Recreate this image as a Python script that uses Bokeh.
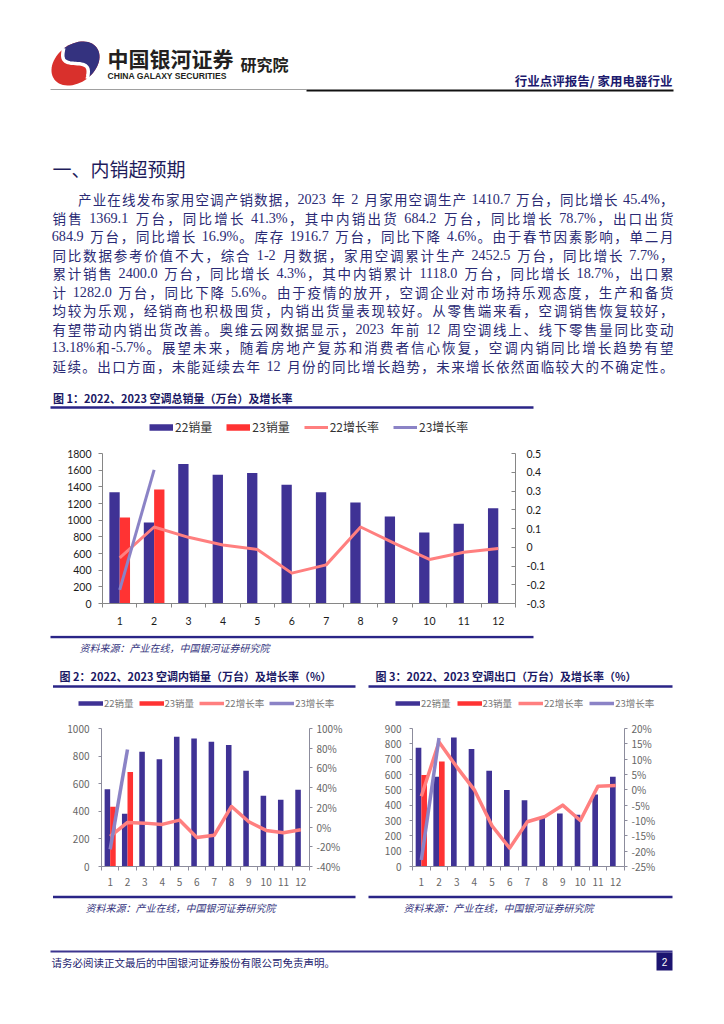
import math
from bokeh.plotting import figure
from bokeh.models import Range1d, LinearAxis, FixedTicker, Legend, LegendItem, ColumnDataSource
from bokeh.layouts import column, row
from bokeh.core.properties import value
from bokeh.transform import dodge
from bokeh.embed import file_html
from bokeh.resources import INLINE

# ---------------- data ----------------
MONTHS = [1, 2, 3, 4, 5, 6, 7, 8, 9, 10, 11, 12]
SERIES_NAMES = ["22销量", "23销量", "22增长率", "23增长率"]

# Figure 1: total sales (10k units) and growth
TOTAL_22 = [1334, 972, 1673, 1545, 1565, 1426, 1334, 1211, 1043, 852, 956, 1143]
TOTAL_23 = [1030.9, 1369.1]
TOTAL_G22 = [-0.057, 0.108, 0.053, 0.012, -0.012, -0.138, -0.094, 0.108, 0.019, -0.065, -0.027, -0.007]
TOTAL_G23 = [-0.227, 0.413]
TOTAL_LEFT_TICKS = [0, 200, 400, 600, 800, 1000, 1200, 1400, 1600, 1800]
TOTAL_RIGHT_TICKS = [-0.3, -0.2, -0.1, 0, 0.1, 0.2, 0.3, 0.4, 0.5]
TOTAL_RIGHT_LABELS = ["-0.3", "-0.2", "-0.1", "0", "0.1", "0.2", "0.3", "0.4", "0.5"]

# Figure 2: domestic sales
DOM_22 = [559, 383, 831, 778, 940, 928, 904, 880, 694, 513, 484, 557]
DOM_23 = [433.8, 684.2]
DOM_G22 = [-0.094, 0.047, 0.040, 0.027, 0.071, -0.105, -0.084, 0.209, 0.054, -0.034, -0.057, -0.027]
DOM_G23 = [-0.226, 0.787]
DOM_LEFT_TICKS = [0, 200, 400, 600, 800, 1000]
DOM_RIGHT_TICKS = [-0.4, -0.2, 0, 0.2, 0.4, 0.6, 0.8, 1.0]
DOM_RIGHT_LABELS = ["-40%", "-20%", "0%", "20%", "40%", "60%", "80%", "100%"]

# Figure 3: exports
EXP_22 = [774, 586, 842, 766, 625, 499, 432, 320, 345, 338, 469, 586]
EXP_23 = [597.1, 684.9]
EXP_G22 = [-0.021, 0.156, 0.075, 0.0, -0.117, -0.190, -0.104, -0.087, -0.050, -0.100, 0.012, 0.014]
EXP_G23 = [-0.229, 0.169]
EXP_LEFT_TICKS = [0, 100, 200, 300, 400, 500, 600, 700, 800, 900]
EXP_RIGHT_TICKS = [-0.25, -0.2, -0.15, -0.1, -0.05, 0, 0.05, 0.1, 0.15, 0.2]
EXP_RIGHT_LABELS = ["-25%", "-20%", "-15%", "-10%", "-5%", "0%", "5%", "10%", "15%", "20%"]

# ---------------- texts ----------------
BRAND_CN = "中国银河证券"
BRAND_EN = "CHINA GALAXY SECURITIES"
BRAND_INST = "研究院"
HEADER_RIGHT = "行业点评报告/ 家用电器行业"
SECTION_TITLE = "一、内销超预期"
BODY_LINES = [
    "产业在线发布家用空调产销数据，2023 年 2 月家用空调生产 1410.7 万台，同比增长 45.4%，",
    "销售 1369.1 万台，同比增长 41.3%，其中内销出货 684.2 万台，同比增长 78.7%，出口出货",
    "684.9 万台，同比增长 16.9%。库存 1916.7 万台，同比下降 4.6%。由于春节因素影响，单二月",
    "同比数据参考价值不大，综合 1-2 月数据，家用空调累计生产 2452.5 万台，同比增长 7.7%，",
    "累计销售 2400.0 万台，同比增长 4.3%，其中内销累计 1118.0 万台，同比增长 18.7%，出口累",
    "计 1282.0 万台，同比下降 5.6%。由于疫情的放开，空调企业对市场持乐观态度，生产和备货",
    "均较为乐观，经销商也积极囤货，内销出货量表现较好。从零售端来看，空调销售恢复较好，",
    "有望带动内销出货改善。奥维云网数据显示，2023 年前 12 周空调线上、线下零售量同比变动",
    "13.18%和-5.7%。展望未来，随着房地产复苏和消费者信心恢复，空调内销同比增长趋势有望",
    "延续。出口方面，未能延续去年 12 月份的同比增长趋势，未来增长依然面临较大的不确定性。",
]
FIG1_TITLE = "图 1：2022、2023 空调总销量（万台）及增长率"
FIG2_TITLE = "图 2：2022、2023 空调内销量（万台）及增长率（%）"
FIG3_TITLE = "图 3：2022、2023 空调出口（万台）及增长率（%）"
SOURCE = "资料来源：产业在线，中国银河证券研究院"
DISCLAIMER = "请务必阅读正文最后的中国银河证券股份有限公司免责声明。"
PAGE_NO = "2"

# ---------------- styles ----------------
CJK = "Noto Sans CJK SC"
SERIF = "Liberation Serif"
C22 = "#3f3295"
C23 = "#ff3333"
CG22 = "#ff7f7f"
CG23 = "#8b83c6"
NAVY = "#2a2a74"
TITLE_LINE = "#2a2587"
LOGO_RED = "#d9302c"
LOGO_BLUE = "#34327f"
W = 724


def canvas(h, y0):
    p = figure(width=W, height=h, x_range=Range1d(0, W), y_range=Range1d(y0 + h, y0),
               output_backend="svg", toolbar_location=None, min_border=0,
               x_axis_location=None, y_axis_location=None)
    p.grid.visible = False
    p.outline_line_color = None
    p.background_fill_color = "white"
    p.border_fill_color = "white"
    return p


def put(p, xs, ys, texts, size, color, font=CJK, style="normal", align="left", baseline="middle"):
    p.text(x=xs, y=ys, text=texts, text_font=value(font), text_font_size=size,
           text_color=color, text_font_style=style, text_align=align, text_baseline=baseline)


def add_legend(p, loc, size, color, gw, h, spacing, standoff, swatch_w, line_w):
    nan = [float("nan")]
    proxies = [p.line(x=nan, y=nan, line_color=C22, line_width=swatch_w),
               p.line(x=nan, y=nan, line_color=C23, line_width=swatch_w),
               p.line(x=nan, y=nan, line_color=CG22, line_width=line_w),
               p.line(x=nan, y=nan, line_color=CG23, line_width=line_w)]
    leg = Legend(items=[LegendItem(label=n, renderers=[r]) for n, r in zip(SERIES_NAMES, proxies)],
                 orientation="horizontal", location=loc, padding=0, margin=0,
                 spacing=spacing, glyph_width=gw, glyph_height=h, label_height=h,
                 label_standoff=standoff, label_text_font=CJK, label_text_font_size=size,
                 label_text_color=color, border_line_color=None, background_fill_alpha=0)
    p.add_layout(leg)


ASCII_W = {".": 0.25, "%": 0.833, "-": 0.333, ",": 0.25}


def justify(p, line, x0, x1, y, fs, color):
    toks = []
    buf = ""
    for ch in line:
        if ord(ch) < 128:
            if ch == " ":
                if buf:
                    toks.append(("a", buf))
                    buf = ""
                toks.append(("s", " "))
            else:
                buf += ch
        else:
            if buf:
                toks.append(("a", buf))
                buf = ""
            toks.append(("c", ch))
    if buf:
        toks.append(("a", buf))
    widths = []
    for kind, t in toks:
        if kind == "c":
            widths.append(fs)
        elif kind == "s":
            widths.append(0.3 * fs)
        else:
            widths.append(sum(ASCII_W.get(c, 0.5) for c in t) * fs)
    extra = (x1 - x0 - sum(widths)) / max(1, len(toks) - 1)
    cx, cxs, cys, ctx_, ax, ays, atx = x0, [], [], [], [], [], []
    for (kind, t), w in zip(toks, widths):
        if kind == "c":
            cxs.append(cx + w / 2); cys.append(y); ctx_.append(t)
        elif kind == "a":
            ax.append(cx + w / 2); ays.append(y); atx.append(t)
        cx += w + extra
    put(p, cxs, cys, ctx_, "%.1fpx" % fs, color, align="center")
    put(p, ax, ays, atx, "%.1fpx" % (fs * 1.05), color, font=SERIF, align="center")


def draw_logo(p, cx, cy, a, b, th):
    ux, uy = math.cos(th), -math.sin(th)
    vx, vy = math.sin(th), math.cos(th)
    n = 60
    ell = [(cx + a * math.cos(2 * math.pi * i / n) * ux + b * math.sin(2 * math.pi * i / n) * vx,
            cy + a * math.cos(2 * math.pi * i / n) * uy + b * math.sin(2 * math.pi * i / n) * vy)
           for i in range(n)]
    p.patch([q[0] for q in ell], [q[1] for q in ell], fill_color=LOGO_RED, line_color=None)
    half = [(cx + a * math.cos(t) * ux + b * math.sin(t) * vx, cy + a * math.cos(t) * uy + b * math.sin(t) * vy)
            for t in [-math.pi / 2 + math.pi * i / 30 for i in range(31)]]
    scurve = []
    for i in range(31):
        s = 1 - 2 * i / 30
        w = 7 * math.sin(math.pi * s)
        scurve.append((cx + s * b * 1.02 * vx + w * ux, cy + s * b * 1.02 * vy + w * uy))
    blue = half + scurve
    p.patch([q[0] for q in blue], [q[1] for q in blue], fill_color=LOGO_BLUE, line_color=None)
    p.line([q[0] for q in scurve], [q[1] for q in scurve], line_color="white", line_width=3.5)


# ---------------- top canvas: header + text + figure 1 title/legend ----------------
TOP_H = 440
top = canvas(TOP_H, 0)
draw_logo(top, 75, 63, 26.5, 19, 0.65)
put(top, [107], [57], [BRAND_CN], "21px", "#231f20", style="bold")
put(top, [107], [75.5], [BRAND_EN], "8.6px", "#231f20", font="Liberation Sans", style="bold")
put(top, [240], [63], [BRAND_INST], "16px", "#231f20", style="bold")
put(top, [672], [80], [HEADER_RIGHT], "12.5px", "#1c1a6e", style="bold", align="right")
top.segment(x0=[50], y0=[89], x1=[306], y1=[89], line_color="#a0a0a0", line_width=1)
top.segment(x0=[306], y0=[90], x1=[673], y1=[90], line_color="#111111", line_width=2)
put(top, [52], [168], [SECTION_TITLE], "19px", "#1e1c5c")
for i, ln in enumerate(BODY_LINES):
    justify(top, ln, 77.5 if i == 0 else 52, 673, 198.5 + 18.5 * i, 13.5, NAVY)
put(top, [52.5], [397], [FIG1_TITLE], "11px", "#1a1864", style="bold")
top.segment(x0=[50], y0=[407], x1=[533], y1=[407], line_color=TITLE_LINE, line_width=2.5)
add_legend(top, (149, 5), "12px", "#333333", 24, 14, 14, 2, 6.5, 3)


# ---------------- chart builder ----------------
def make_chart(width, height, borders, v22, v23, g22, g23, left_ticks, right_ticks, right_labels,
               bar_w, line_w, tick_font, tick_size, tick_color, axis_color,
               x_standoff, left_out, left_in, left_standoff, right_out, right_in, right_standoff):
    bl, br, bt, bb = borders
    p = figure(width=width, height=height, x_range=Range1d(0.5, 12.5),
               y_range=Range1d(left_ticks[0], left_ticks[-1]),
               output_backend="svg", toolbar_location=None,
               min_border_left=bl, min_border_right=br, min_border_top=bt, min_border_bottom=bb)
    p.outline_line_color = None
    p.grid.visible = False
    p.background_fill_color = "white"
    p.border_fill_color = "white"
    p.extra_y_ranges = {"rate": Range1d(right_ticks[0], right_ticks[-1])}
    s22 = ColumnDataSource(dict(m=MONTHS, v=v22, g=g22))
    s23 = ColumnDataSource(dict(m=MONTHS[:len(v23)], v=v23, g=g23))
    p.vbar(x=dodge("m", -bar_w / 2), top="v", width=bar_w, source=s22, fill_color=C22, line_color=None)
    p.vbar(x=dodge("m", bar_w / 2), top="v", width=bar_w, source=s23, fill_color=C23, line_color=None)
    p.line("m", "g", source=s22, y_range_name="rate", line_color=CG22, line_width=line_w,
           line_join="round")
    p.line("m", "g", source=s23, y_range_name="rate", line_color=CG23, line_width=line_w)

    xa = p.xaxis[0]
    xa.ticker = FixedTicker(ticks=MONTHS, minor_ticks=[m - 0.5 for m in MONTHS] + [MONTHS[-1] + 0.5])
    xa.major_tick_line_color = None
    xa.major_tick_out = 0
    xa.major_tick_in = 0
    xa.minor_tick_line_color = axis_color
    xa.minor_tick_out = 4
    xa.minor_tick_in = 0
    xa.major_label_standoff = x_standoff

    ya = p.yaxis[0]
    ya.ticker = FixedTicker(ticks=left_ticks)
    ya.minor_tick_line_color = None
    ya.major_tick_out = left_out
    ya.major_tick_in = left_in
    ya.major_label_standoff = left_standoff

    ra = LinearAxis(y_range_name="rate", ticker=FixedTicker(ticks=right_ticks),
                    major_label_overrides=dict(zip(right_ticks, right_labels)))
    ra.minor_tick_line_color = None
    ra.major_tick_out = right_out
    ra.major_tick_in = right_in
    ra.major_label_standoff = right_standoff
    p.add_layout(ra, "right")

    for ax in (xa, ya, ra):
        ax.axis_line_color = axis_color
        ax.major_label_text_font = tick_font
        ax.major_label_text_font_size = tick_size
        ax.major_label_text_color = tick_color
        if ax is not xa:
            ax.major_tick_line_color = axis_color
    return p


chart1 = make_chart(W, 635 - TOP_H, (102, 209, 13, 32), TOTAL_22, TOTAL_23, TOTAL_G22, TOTAL_G23,
                    TOTAL_LEFT_TICKS, TOTAL_RIGHT_TICKS, TOTAL_RIGHT_LABELS,
                    0.3, 3, "Lato", "10.5px", "#1a1a1a", "#868686",
                    9, 4, 0, 7, 0, 4, 11)

# ---------------- middle canvas ----------------
MID_Y0, MID_H = 635, 80
mid = canvas(MID_H, MID_Y0)
mid.segment(x0=[50], y0=[636.5], x1=[533], y1=[636.5], line_color=TITLE_LINE, line_width=2.5)
put(mid, [79], [647], [SOURCE], "10px", "#34347e", style="italic")
put(mid, [59], [675], [FIG2_TITLE], "11px", "#1a1864", style="bold")
put(mid, [375], [675], [FIG3_TITLE], "11px", "#1a1864", style="bold")
mid.segment(x0=[52.5, 368], y0=[686, 686], x1=[355, 672], y1=[686, 686], line_color=TITLE_LINE, line_width=2.5)
add_legend(mid, (78, 5), "9.5px", "#777777", 25, 12, 5, 1, 4.5, 3.5)
add_legend(mid, (395, 5), "9.5px", "#777777", 25, 12, 6, 1, 4.5, 3.5)

ROW_Y0, ROW_H = MID_Y0 + MID_H, 893 - (MID_Y0 + MID_H)
chart2 = make_chart(360, ROW_H, (101, 51, 13, 27), DOM_22, DOM_23, DOM_G22, DOM_G23,
                    DOM_LEFT_TICKS, DOM_RIGHT_TICKS, DOM_RIGHT_LABELS,
                    0.32, 3.5, CJK, "10px", "#666666", "#8c8c9c",
                    7, 3, 0, 9, 3, 0, 4)

chart3 = make_chart(364, ROW_H, (52, 100, 13, 27), EXP_22, EXP_23, EXP_G22, EXP_G23,
                    EXP_LEFT_TICKS, EXP_RIGHT_TICKS, EXP_RIGHT_LABELS,
                    0.32, 3.5, CJK, "10px", "#666666", "#8c8c9c",
                    7, 3, 0, 8, 3, 0, 4)

# ---------------- bottom canvas ----------------
bot = canvas(127, 893)
bot.segment(x0=[52.5, 368], y0=[896.5, 896.5], x1=[355, 672], y1=[896.5, 896.5],
            line_color=TITLE_LINE, line_width=2.5)
put(bot, [85, 403], [907, 907], [SOURCE, SOURCE], "10px", "#34347e", style="italic")
bot.segment(x0=[50], y0=[951], x1=[672], y1=[951], line_color="#3d3590", line_width=2)
put(bot, [51], [962], [DISCLAIMER], "10.5px", "#26246e")
bot.quad(left=[656], right=[672], top=[952], bottom=[970], fill_color="#1c1470", line_color=None)
put(bot, [664], [961], [PAGE_NO], "10px", "white", font="Liberation Sans", align="center")

page = column(row(top), row(chart1), row(mid), row(chart2, chart3), row(bot))
open("out.html", "w").write(file_html(page, INLINE))
